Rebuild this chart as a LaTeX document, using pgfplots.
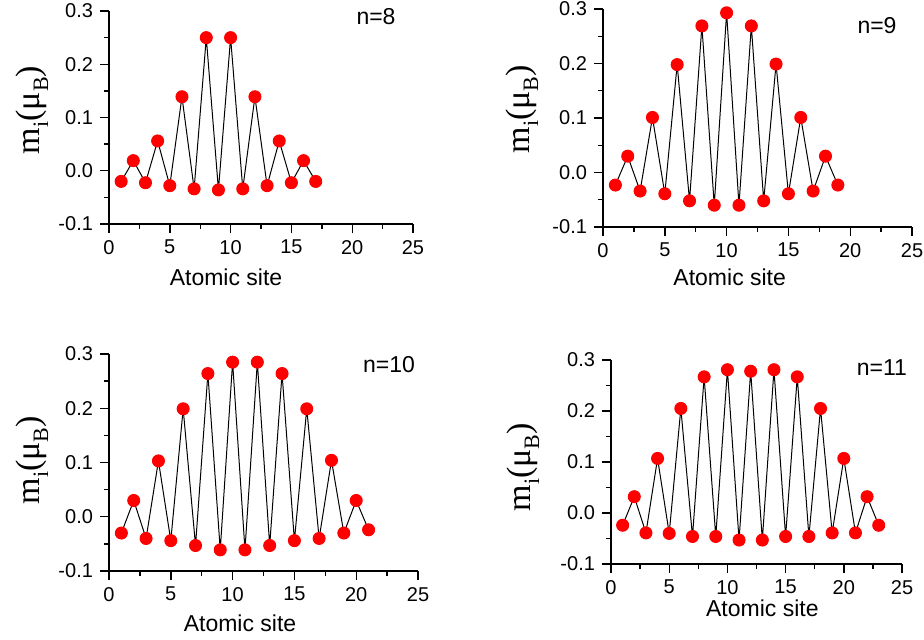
\documentclass[border=0pt]{standalone}
\usepackage{pgfplots}
\pgfplotsset{compat=1.18}
\usepackage{fontspec}
\setmainfont{Liberation Sans}
\newfontfamily\serif{Liberation Serif}

\pgfplotstableread{
x y
1 -0.020
2 0.019
3 -0.0225
4 0.056
5 -0.028
6 0.139
7 -0.034
8 0.250
9 -0.036
10 0.250
11 -0.034
12 0.139
13 -0.028
14 0.056
15 -0.0225
16 0.019
17 -0.020
}\dataA

\pgfplotstableread{
x y
1 -0.023
2 0.030
3 -0.034
4 0.101
5 -0.039
6 0.198
7 -0.052
8 0.269
9 -0.060
10 0.293
11 -0.060
12 0.269
13 -0.052
14 0.199
15 -0.039
16 0.101
17 -0.034
18 0.030
19 -0.023
}\dataB

\pgfplotstableread{
x y
1 -0.030
2 0.030
3 -0.040
4 0.103
5 -0.044
6 0.199
7 -0.053
8 0.264
9 -0.061
10 0.285
11 -0.061
12 0.285
13 -0.053
14 0.264
15 -0.044
16 0.199
17 -0.040
18 0.104
19 -0.030
20 0.030
21 -0.024
}\dataC

\pgfplotstableread{
x y
1 -0.024
2 0.032
3 -0.039
4 0.107
5 -0.040
6 0.205
7 -0.046
8 0.267
9 -0.046
10 0.281
11 -0.053
12 0.278
13 -0.053
14 0.281
15 -0.046
16 0.267
17 -0.046
18 0.205
19 -0.039
20 0.107
21 -0.039
22 0.032
23 -0.024
}\dataD

\newcommand{\sub}[1]{\raisebox{-4.3pt}{\fontsize{11}{11}\selectfont #1}}

\pgfplotsset{
  panel/.style={
    scale only axis,
    axis lines=left,
    axis line style={-, line width=0.8pt, black},
    xmin=0, xmax=25, ymin=-0.1, ymax=0.3,
    xtick={0,5,10,15,20,25},
    ytick={-0.1,0,0.1,0.2,0.3},
    minor x tick num=1, minor y tick num=1,
    tick align=outside,
    major tick length=4.5pt, minor tick length=2.5pt,
    every tick/.style={line width=0.7pt, black},
    /pgf/number format/assume math mode=true,
    yticklabel style={/pgf/number format/fixed, /pgf/number format/fixed zerofill, /pgf/number format/precision=1},
    ticklabel style={font=\fontsize{10}{12}\selectfont},
    xlabel={Atomic site},
    ylabel={{\serif m\sub{i}(μ\sub{B})}},
    xlabel style={font=\fontsize{11.5}{13}\selectfont, anchor=center},
    ylabel style={font=\fontsize{17}{19}\selectfont, anchor=center},
    clip=false,
  },
  dots/.style={black, line width=0.5pt, mark=*, mark size=3pt, mark options={draw=red, fill=red}},
}
\tikzset{nlab/.style={font=\fontsize{11.5}{13}\selectfont, anchor=center}}

\begin{document}
\begin{tikzpicture}
\useasboundingbox (0,0) rectangle (462pt,319.5pt);

\begin{axis}[panel, at={(54.5pt,207.5pt)}, anchor=south west, width=152pt, height=106.5pt,
  xlabel style={at={(axis description cs:0.385,-0.249)}},
  ylabel style={at={(axis description cs:-0.253,0.535)}}]
\addplot[dots] table[x=x,y=y] {\dataA};
\node[nlab] at (axis cs:21.96,0.2887) {n=8};
\end{axis}

\begin{axis}[panel, at={(301.5pt,206pt)}, anchor=south west, width=154.5pt, height=109pt,
  xlabel style={at={(axis description cs:0.41,-0.229)}},
  ylabel style={at={(axis description cs:-0.262,0.54)}}]
\addplot[dots] table[x=x,y=y] {\dataB};
\node[nlab] at (axis cs:22.17,0.2688) {n=9};
\end{axis}

\begin{axis}[panel, at={(54.5pt,34pt)}, anchor=south west, width=154.5pt, height=108.5pt,
  xlabel style={at={(axis description cs:0.424,-0.240)}},
  ylabel style={at={(axis description cs:-0.249,0.51)}}]
\addplot[dots] table[x=x,y=y] {\dataC};
\node[nlab] at (axis cs:22.65,0.2797) {n=10};
\end{axis}

\begin{axis}[panel, at={(305.5pt,37.5pt)}, anchor=south west, width=145.5pt, height=102pt,
  xlabel style={at={(axis description cs:0.52,-0.216)}},
  ylabel style={at={(axis description cs:-0.302,0.475)}}]
\addplot[dots] table[x=x,y=y] {\dataD};
\node[nlab] at (axis cs:23.28,0.2843) {n=11};
\end{axis}
\end{tikzpicture}
\end{document}
